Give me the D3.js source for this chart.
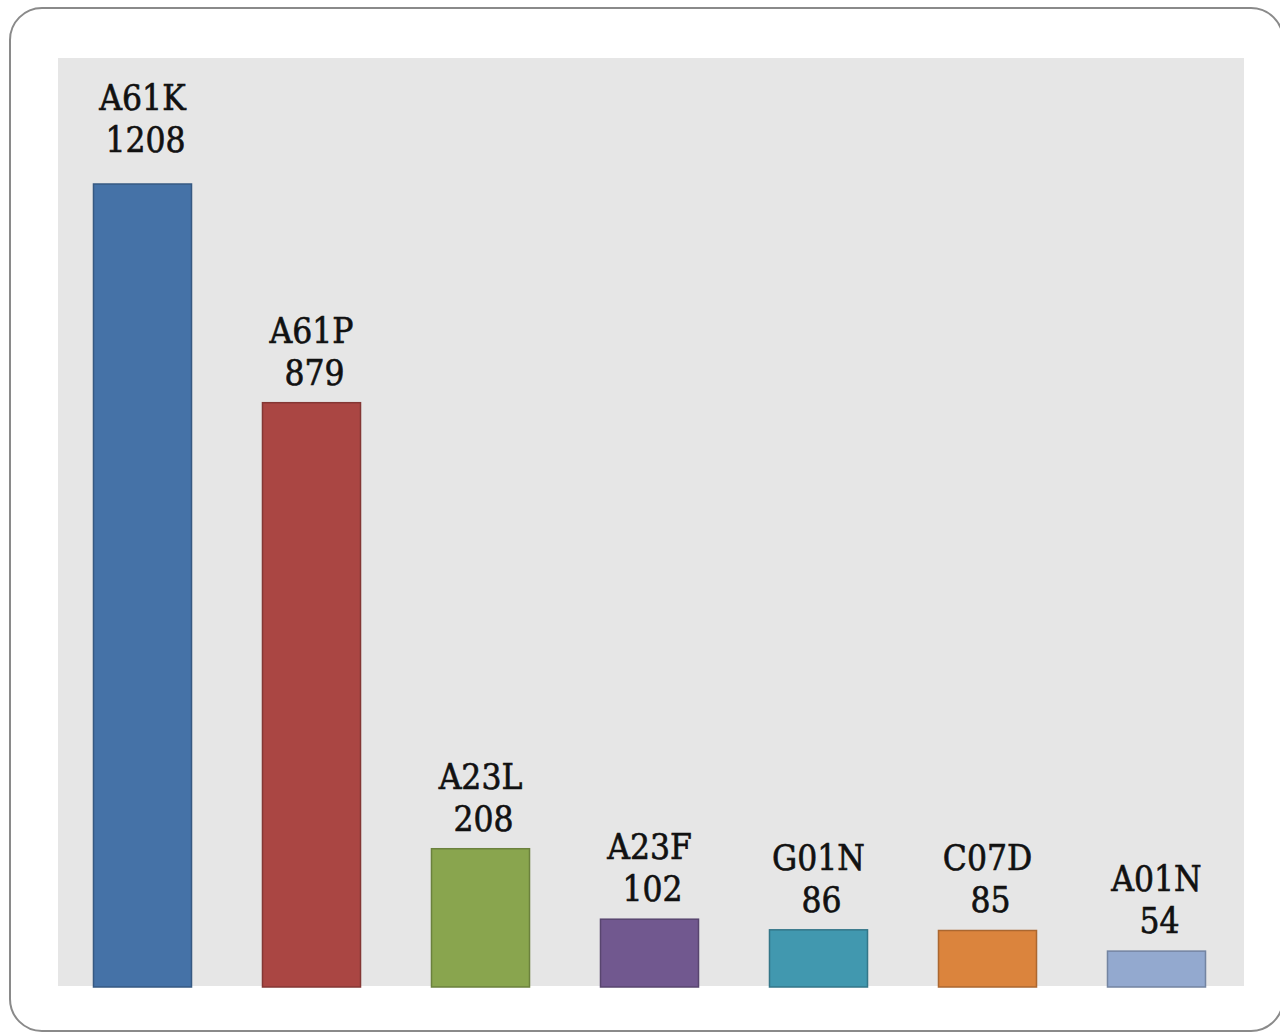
<!DOCTYPE html>
<html>
<head>
<meta charset="utf-8">
<script src="https://cdn.jsdelivr.net/npm/d3@7"></script>
<style>
  html, body { margin: 0; padding: 0; background: #fff; }
  svg { display: block; }
</style>
</head>
<body>
<div id="viz"></div>
<script>
"use strict";

const w = 1280;
const h = 1032;

// data
const codes = ["A61K", "A61P", "A23L", "A23F", "G01N", "C07D", "A01N"];
const counts = [1208, 879, 208, 102, 86, 85, 54];
const fills = ["#4572a7", "#aa4643", "#89a54e", "#71588f", "#4198af", "#db843d", "#93a9cf"];

const plot = { left: 58, top: 58, right: 1244, bottom: 986 };

const svg = d3.select("#viz")
  .append("svg")
  .attr("width", w)
  .attr("height", h)

// rounded frame
svg.append("rect")
  .attr("x", 10)
  .attr("y", 8)
  .attr("width", 1273)
  .attr("height", 1023)
  .attr("rx", 32)
  .attr("fill", "#fff")
  .attr("stroke", "#8a8a8a")
  .attr("stroke-width", 2)

// plot background
svg.append("rect")
  .attr("x", plot.left)
  .attr("y", plot.top)
  .attr("width", plot.right - plot.left)
  .attr("height", plot.bottom - plot.top)
  .attr("fill", "#e6e6e6")

const x = d3.scaleBand()
  .domain(codes)
  .range([plot.left, 1241])
  .paddingInner(0.42)
  .paddingOuter(0.21)

const y = d3.scaleLinear()
  .domain([0, 1208])
  .range([987, 184])

const rows = codes.map((c, i) => ({ code: c, count: counts[i], fill: fills[i] }))

svg.append("g")
  .selectAll("rect")
  .data(rows)
  .join("rect")
  .attr("x", d => x(d.code))
  .attr("y", d => y(d.count))
  .attr("width", x.bandwidth())
  .attr("height", d => y(0) - y(d.count))
  .attr("fill", d => d.fill)
  .attr("stroke", d => d3.color(d.fill).darker(0.7))
  .attr("stroke-width", 1.5)

const labels = svg.append("g")
  .attr("font-family", "'DejaVu Serif Condensed', 'DejaVu Serif', serif")
  .attr("font-size", 35)
  .attr("fill", "#111")
  .attr("stroke", "#111")
  .attr("stroke-width", 0.6)
  .attr("text-anchor", "middle")
  .selectAll("text")
  .data(rows)
  .join("text")
  .attr("x", d => x(d.code) + x.bandwidth() / 2)
  .attr("y", d => y(d.count) - (d.count === 1208 ? 74 : 60))

labels.append("tspan")
  .attr("x", d => x(d.code) + x.bandwidth() / 2)
  .text(d => d.code)

labels.append("tspan")
  .attr("x", d => x(d.code) + x.bandwidth() / 2 + 3)
  .attr("dy", 42)
  .text(d => d.count)
</script>
</body>
</html>
